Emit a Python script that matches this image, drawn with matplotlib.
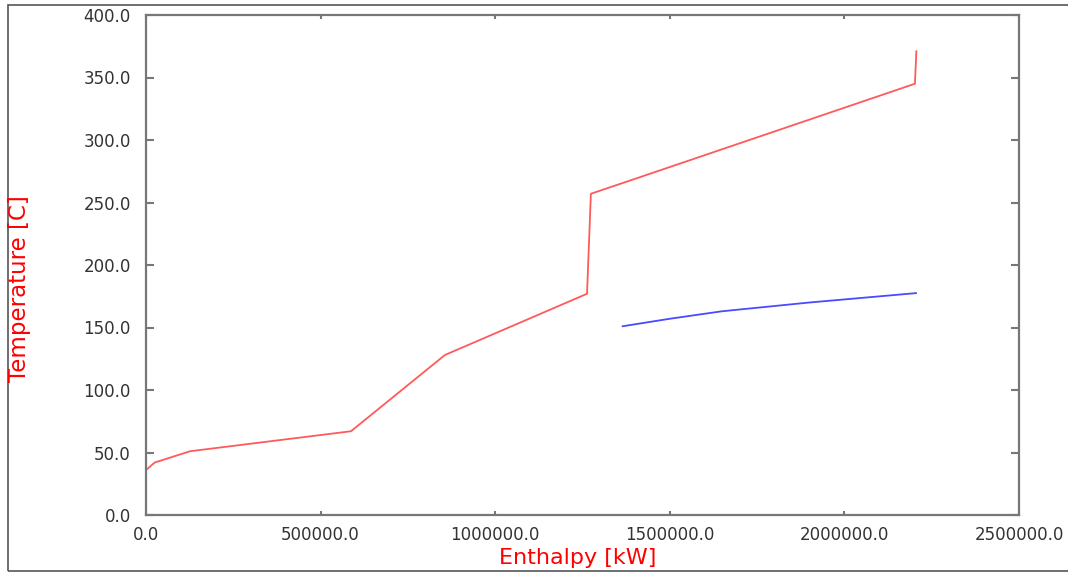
import matplotlib
matplotlib.use("Agg")
import matplotlib.pyplot as plt
from matplotlib.patches import Rectangle

# Data
hot_enthalpy = [0, 25000, 126000, 587000, 856000, 1263000, 1274000, 1380000, 2202000, 2206000]
hot_temp = [36, 42, 51, 67, 128, 177, 257, 267, 345, 371]
cold_enthalpy = [1365000, 1500000, 1650000, 1900000, 2205000]
cold_temp = [151, 157, 163, 170, 177.5]
x_ticks = [0, 500000, 1000000, 1500000, 2000000, 2500000]
y_ticks = [0, 50, 100, 150, 200, 250, 300, 350, 400]

plt.rcParams['font.family'] = ['DejaVu Sans']

fig = plt.figure(figsize=(10.68, 5.73), dpi=100)
W, H = 1068, 573
ax = fig.add_axes([146 / W, 1 - 515 / H, (1019 - 146) / W, (515 - 15) / H])

ax.plot(hot_enthalpy, hot_temp, color='#ff5a5a', lw=1.3)
ax.plot(cold_enthalpy, cold_temp, color='#4a4aff', lw=1.3)

ax.set_xlim(0, 2500000)
ax.set_ylim(0, 400)
ax.set_xticks(x_ticks)
ax.set_xticklabels([f"{v:.1f}" for v in x_ticks])
ax.set_yticks(y_ticks)
ax.set_yticklabels([f"{v:.1f}" for v in y_ticks])

for s in ax.spines.values():
    s.set_color('#777777')
    s.set_linewidth(1.6)
ax.tick_params(axis='both', direction='in', width=1.5, color='#777777',
               labelsize=12, labelcolor='#333333', top=True, right=True)
ax.tick_params(axis='y', pad=11, length=6)
ax.tick_params(axis='x', pad=8, length=3)

fig.text(578 / W, 1 - 558 / H, 'Enthalpy [kW]', color='red', fontsize=16,
         ha='center', va='center')
fig.text(20 / W, 1 - 289 / H, 'Temperature [C]', color='red', fontsize=16.5,
         ha='center', va='center', rotation=90)

# outer frame
fig.patches.append(Rectangle((8 / W, 1 - 571 / H), 1.2, (571 - 5) / H,
                             transform=fig.transFigure, fill=False,
                             edgecolor='#555555', lw=1.2))
fig.savefig('out.png', dpi=100)
